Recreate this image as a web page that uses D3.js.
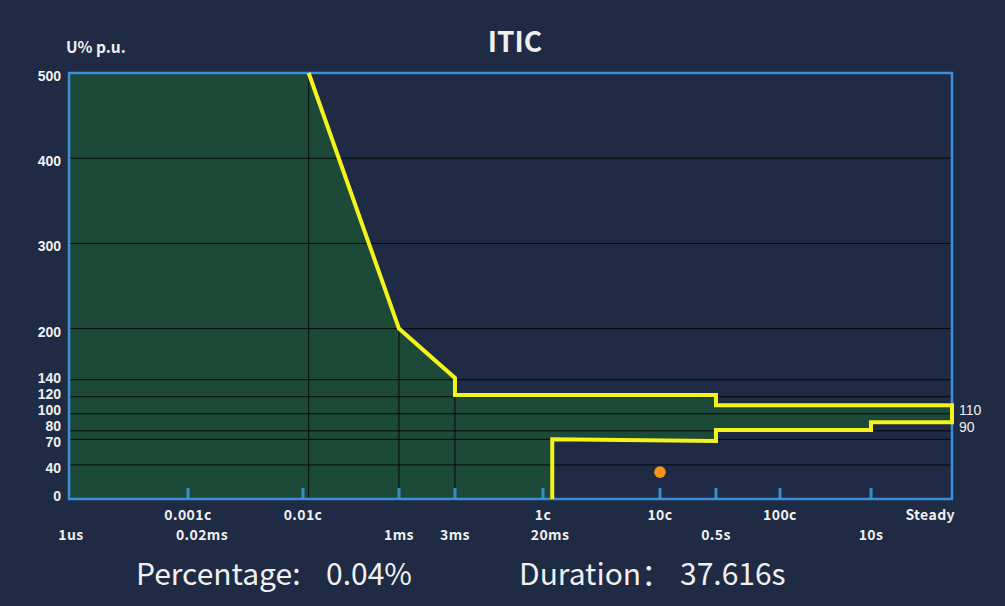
<!DOCTYPE html>
<html>
<head>
<meta charset="utf-8">
<script src="https://cdn.jsdelivr.net/npm/d3@7"></script>
<style>
  html, body { margin: 0; padding: 0; background: #1f2a44; }
  svg { display: block; }
  text { font-family: "Noto Sans CJK SC", "Noto Sans", sans-serif; }
  .num { font-family: "Liberation Sans", Arial, sans-serif; }
</style>
</head>
<body>
<svg id="chart" width="1005" height="606"></svg>
<script>
// ---- Time axis: anchor times (ms) with their cycle / time captions ----
const tickTimes   = [0.001, 0.02, 0.2, 1, 3, 20, 200, 500, 2000, 10000, 60000];
const cycleLabels = ["", "0.001c", "0.01c", "", "", "1c", "10c", "", "100c", "", "Steady"];
const timeLabels  = ["1us", "0.02ms", "", "1ms", "3ms", "20ms", "", "0.5s", "", "10s", ""];

// ---- Voltage axis ticks (%) ----
const yTicks = [0, 40, 70, 80, 100, 120, 140, 200, 300, 400, 500];

// ---- ITIC envelope (time in ms, voltage in %) ----
const upperTime = [0.22, 1, 3, 3, 500, 500, 60000];
const upperVolt = [500, 200, 142, 122, 122, 110, 110];
const lowerTime = [24, 24, 500, 500, 10000, 10000, 60000];
const lowerVolt = [0, 70, 68, 81, 81, 90, 90];
const steadyLevels = [110, 90];

// ---- Recorded event ----
const eventTime = [200];
const eventVolt = [31.5];

// ---- Summary ----
const summaryNames  = ["Percentage:", "Duration："];
const summaryValues = ["0.04%", "37.616s"];

// ---- Layout ----
const plot = { left: 69, right: 952, top: 73, bottom: 499 };
// relative placement of each anchor time along the axis
const xStops = [0, 0.1348, 0.2650, 0.3737, 0.4371, 0.5368, 0.6693, 0.7327, 0.8052, 0.9083, 1];
const timeLabelShift = { "0.02ms": 14, "20ms": 7, "1us": 2 };

const C = {
  bg: "#1f2a44",
  fill: "#1d4a38",
  grid: "#000000",
  border: "#3a8fd8",
  tick: "#3a98d8",
  curve: "#f4f41c",
  event: "#f7941d",
  text: "#f0f0f0"
};

const svg = d3.select("#chart");
const W = plot.right - plot.left;

const xLog = d3.scaleLinear()
  .domain(tickTimes.map(Math.log10))
  .range(xStops.map(f => plot.left + f * W));
const x = t => xLog(Math.log10(t));
const y = d3.scaleLinear().domain([0, 500]).range([plot.bottom, plot.top]);

svg.append("rect").attr("width", 1005).attr("height", 606).attr("fill", C.bg);

// envelope polygon: upper curve out to steady state, back along the lower curve
const tMin = tickTimes[0];
const upperPts = upperTime.map((t, i) => [t, upperVolt[i]]);
const lowerPts = lowerTime.map((t, i) => [t, lowerVolt[i]]);
const outline = upperPts.concat(lowerPts.slice().reverse());
const area = [[tMin, 500]].concat(outline, [[tMin, 0]]);

const line = d3.line().x(d => x(d[0])).y(d => y(d[1]));

svg.append("path")
  .attr("d", line(area) + "Z")
  .attr("fill", C.fill);

// horizontal grid
svg.append("g").selectAll("line")
  .data(yTicks.filter(v => v > 0))
  .join("line")
  .attr("x1", plot.left).attr("x2", plot.right)
  .attr("y1", d => y(d)).attr("y2", d => y(d))
  .attr("stroke", C.grid).attr("stroke-opacity", 0.85).attr("stroke-width", 1);

// drop lines under the sloped part of the upper curve
const dropPts = upperPts.filter((d, i) => i < 3);
svg.append("g").selectAll("line")
  .data(dropPts)
  .join("line")
  .attr("x1", d => x(d[0])).attr("x2", d => x(d[0]))
  .attr("y1", d => y(d[1])).attr("y2", y(0))
  .attr("stroke", C.grid).attr("stroke-opacity", 0.85).attr("stroke-width", 1);

// plot frame
svg.append("rect")
  .attr("x", plot.left).attr("y", plot.top)
  .attr("width", W).attr("height", plot.bottom - plot.top)
  .attr("fill", "none").attr("stroke", C.border).attr("stroke-width", 2.5);

// inner tick marks on the time axis
svg.append("g").selectAll("line")
  .data(tickTimes.slice(1, -1))
  .join("line")
  .attr("x1", d => x(d)).attr("x2", d => x(d))
  .attr("y1", plot.bottom).attr("y2", plot.bottom - 11)
  .attr("stroke", C.tick).attr("stroke-opacity", 0.9).attr("stroke-width", 3);

// ITIC curve
svg.append("path")
  .attr("d", line(outline))
  .attr("fill", "none")
  .attr("stroke", C.curve)
  .attr("stroke-width", 4)
  .attr("stroke-linejoin", "miter");

// event marker
svg.append("g").selectAll("circle")
  .data(eventTime.map((t, i) => [t, eventVolt[i]]))
  .join("circle")
  .attr("cx", d => x(d[0])).attr("cy", d => y(d[1]))
  .attr("r", 5.8).attr("fill", C.event);

// y tick labels, spaced so the dense low range stays readable
const yLab = [];
let prev = Infinity;
yTicks.forEach(v => {
  const pos = Math.min(y(v) + 3, y(0) - 3, prev - 16);
  yLab.push([v, pos]);
  prev = pos;
});
svg.append("g").selectAll("text")
  .data(yLab)
  .join("text")
  .attr("class", "num")
  .attr("x", 61).attr("y", d => d[1])
  .attr("text-anchor", "end").attr("dominant-baseline", "central")
  .attr("font-size", 14).attr("font-weight", "bold")
  .attr("fill", C.text)
  .text(d => d[0]);

// time axis labels: cycles row and time row
const last = tickTimes.length - 1;
svg.append("g").selectAll("text")
  .data(tickTimes.map((t, i) => [t, cycleLabels[i], i]).filter(d => d[1]))
  .join("text")
  .attr("x", d => d[2] === last ? x(d[0]) + 3 : x(d[0]))
  .attr("y", 514)
  .attr("text-anchor", d => d[2] === last ? "end" : "middle")
  .attr("dominant-baseline", "central")
  .attr("font-size", 14).attr("font-weight", "bold")
  .attr("letter-spacing", 0.4)
  .attr("fill", C.text)
  .text(d => d[1]);

svg.append("g").selectAll("text")
  .data(tickTimes.map((t, i) => [t, timeLabels[i]]).filter(d => d[1]))
  .join("text")
  .attr("x", d => x(d[0]) + (timeLabelShift[d[1]] || 0))
  .attr("y", 534)
  .attr("text-anchor", "middle")
  .attr("dominant-baseline", "central")
  .attr("font-size", 14).attr("font-weight", "bold")
  .attr("letter-spacing", 0.4)
  .attr("fill", C.text)
  .text(d => d[1]);

// steady-state level labels
svg.append("g").selectAll("text")
  .data(steadyLevels)
  .join("text")
  .attr("class", "num")
  .attr("x", plot.right + 7).attr("y", d => y(d) + 4.5)
  .attr("dominant-baseline", "central")
  .attr("font-size", 14)
  .attr("fill", C.text)
  .text(d => d);

// titles
svg.append("text")
  .attr("x", 515).attr("y", 52)
  .attr("text-anchor", "middle")
  .attr("font-size", 28).attr("font-weight", "bold")
  .attr("fill", C.text)
  .text("ITIC");

svg.append("text")
  .attr("x", 66).attr("y", 53)
  .attr("font-size", 15.5).attr("font-weight", "bold")
  .attr("fill", C.text)
  .text("U% p.u.");

// summary line
const summaryX = [[136, 326], [519, 680]];
summaryNames.forEach((name, i) => {
  svg.append("text")
    .attr("x", summaryX[i][0]).attr("y", 585)
    .attr("font-size", 30)
    .attr("fill", C.text)
    .text(name);
  svg.append("text")
    .attr("x", summaryX[i][1]).attr("y", 585)
    .attr("font-size", 30)
    .attr("fill", C.text)
    .text(summaryValues[i]);
});
</script>
</body>
</html>
